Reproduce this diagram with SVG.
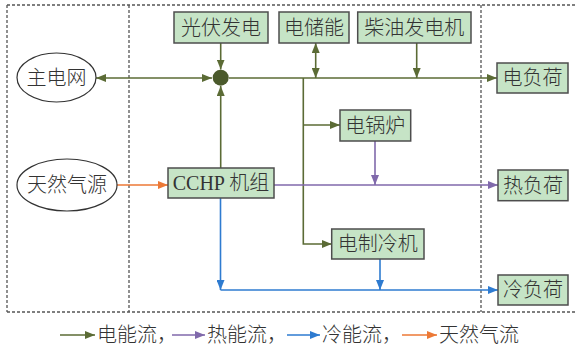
<svg xmlns="http://www.w3.org/2000/svg" width="575" height="348" viewBox="0 0 575 348">
<defs>
<style>
.box{fill:#c6e4c6;stroke:#4d4d4d;stroke-width:1.5}
.ell{fill:#fff;stroke:#333;stroke-width:1.2}
.t{font-family:"Liberation Serif","Noto Sans CJK SC",serif;font-size:20px;font-weight:300;fill:#333;text-anchor:middle}
.lt{font-family:"Liberation Serif","Noto Sans CJK SC",serif;font-size:20px;font-weight:300;fill:#333}
.dash{stroke:#555;stroke-width:1.3;stroke-dasharray:3 2;fill:none}
.g{stroke:#5b6b35;stroke-width:1.6;fill:none}
.p{stroke:#8069ab;stroke-width:1.6;fill:none}
.b{stroke:#2e7bd0;stroke-width:1.6;fill:none}
.o{stroke:#ec7936;stroke-width:1.6;fill:none}
</style>
<marker id="ag" viewBox="0 0 10 8" refX="10" refY="4" markerWidth="10" markerHeight="8" markerUnits="userSpaceOnUse" orient="auto-start-reverse"><path d="M0,0L10,4L0,8z" fill="#5b6b35"/></marker>
<marker id="ap" viewBox="0 0 10 8" refX="10" refY="4" markerWidth="10" markerHeight="8" markerUnits="userSpaceOnUse" orient="auto"><path d="M0,0L10,4L0,8z" fill="#8069ab"/></marker>
<marker id="ab" viewBox="0 0 10 8" refX="10" refY="4" markerWidth="10" markerHeight="8" markerUnits="userSpaceOnUse" orient="auto"><path d="M0,0L10,4L0,8z" fill="#2e7bd0"/></marker>
<marker id="ao" viewBox="0 0 10 8" refX="10" refY="4" markerWidth="10" markerHeight="8" markerUnits="userSpaceOnUse" orient="auto"><path d="M0,0L10,4L0,8z" fill="#ec7936"/></marker>
</defs>
<rect width="575" height="348" fill="#fff"/>
<g id="frame">
<path class="dash" d="M7,5H575M7,312H575M7,5V312M129,5V312M481,5V312"/>
</g>
<g id="connectors">
<path class="g" d="M96,78H212" marker-start="url(#ag)" marker-end="url(#ag)"/>
<path class="g" d="M229,78H497" marker-end="url(#ag)"/>
<path class="g" d="M220.7,43V69.5" marker-end="url(#ag)"/>
<path class="g" d="M220.7,168V86" marker-end="url(#ag)"/>
<path class="g" d="M315.7,43V78" marker-start="url(#ag)" marker-end="url(#ag)"/>
<path class="g" d="M416.7,43V78" marker-end="url(#ag)"/>
<path class="g" d="M303.3,78V244H331.7" marker-end="url(#ag)"/>
<path class="g" d="M303.3,125H340" marker-end="url(#ag)"/>
<path class="p" d="M375,141V185" marker-end="url(#ap)"/>
<path class="p" d="M274,185H498" marker-end="url(#ap)"/>
<path class="o" d="M117,185H168" marker-end="url(#ao)"/>
<path class="b" d="M220.5,198V290" marker-end="url(#ab)"/>
<path class="b" d="M220.5,290H498" marker-end="url(#ab)"/>
<path class="b" d="M380,259V290" marker-end="url(#ab)"/>
</g>
<g id="junction"><circle cx="220.7" cy="77.7" r="8" fill="#4b5a2c"/></g>
<g id="grid"><ellipse class="ell" cx="56.5" cy="77.5" rx="39.5" ry="24.5"/><text class="t" x="56.5" y="84.5">主电网</text></g>
<g id="gas"><ellipse class="ell" cx="67" cy="185" rx="50" ry="26"/><text class="t" x="67" y="192">天然气源</text></g>
<g id="pv"><rect class="box" x="174" y="12" width="94" height="31"/><text class="t" x="221" y="34.5">光伏发电</text></g>
<g id="storage"><rect class="box" x="279" y="12" width="70" height="31"/><text class="t" x="314" y="34.5">电储能</text></g>
<g id="diesel"><rect class="box" x="357.7" y="12" width="113.3" height="31"/><text class="t" x="414.3" y="34.5">柴油发电机</text></g>
<g id="eload"><rect class="box" x="497" y="63" width="71" height="30"/><text class="t" x="532.5" y="85">电负荷</text></g>
<g id="boiler"><rect class="box" x="340" y="110" width="70.7" height="31"/><text class="t" x="375.3" y="132.5">电锅炉</text></g>
<g id="cchp"><rect class="box" x="168" y="168" width="106" height="30"/><text class="t" x="221" y="190">CCHP 机组</text></g>
<g id="hload"><rect class="box" x="498" y="170" width="70" height="30.7"/><text class="t" x="533" y="192.5">热负荷</text></g>
<g id="chiller"><rect class="box" x="331.7" y="229" width="92.3" height="30"/><text class="t" x="377.8" y="251">电制冷机</text></g>
<g id="cload"><rect class="box" x="498" y="275" width="70" height="30"/><text class="t" x="533" y="297">冷负荷</text></g>
<g id="legend">
<path class="g" d="M60,335H95" marker-end="url(#ag)"/>
<text class="lt" x="97" y="342">电能流，</text>
<path class="p" d="M172,335H205" marker-end="url(#ap)"/>
<text class="lt" x="207" y="342">热能流，</text>
<path class="b" d="M287,335H320" marker-end="url(#ab)"/>
<text class="lt" x="322" y="342">冷能流，</text>
<path class="o" d="M402,335H437" marker-end="url(#ao)"/>
<text class="lt" x="439" y="342">天然气流</text>
</g>
</svg>
